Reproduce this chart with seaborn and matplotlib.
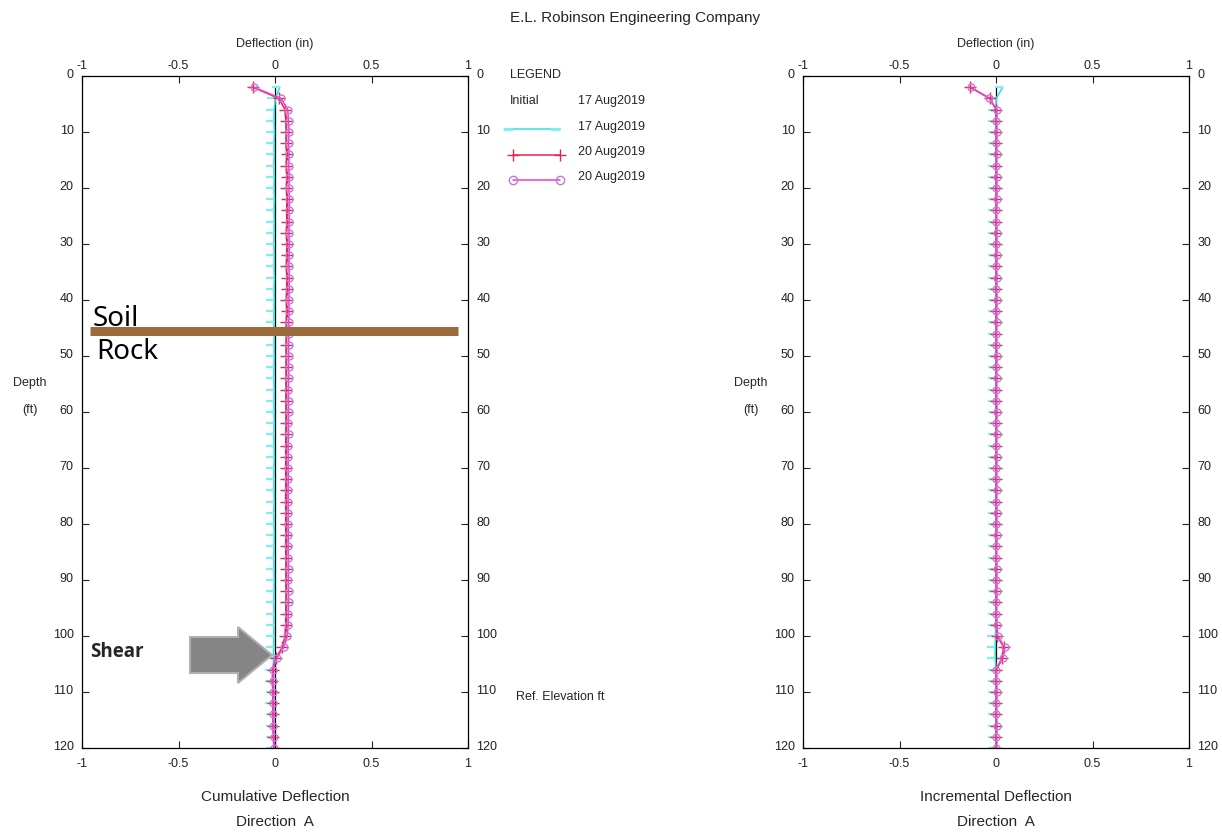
import numpy as np
import seaborn as sns
import matplotlib
import matplotlib.pyplot as plt
from matplotlib.lines import Line2D
from matplotlib.patches import FancyArrow
import matplotlib.transforms as mtransforms

# inclinometer readings, depth in ft, deflection in inches
depth = [2, 4, 6, 8, 10, 12, 14, 16, 18, 20,
         22, 24, 26, 28, 30, 32, 34, 36, 38, 40,
         42, 44, 46, 48, 50, 52, 54, 56, 58, 60,
         62, 64, 66, 68, 70, 72, 74, 76, 78, 80,
         82, 84, 86, 88, 90, 92, 94, 96, 98, 100,
         102, 104, 106, 108, 110, 112, 114, 116, 118, 120]

initial = [0.0, 0.0, 0.0, 0.0, 0.0, 0.0, 0.0, 0.0, 0.0, 0.0,
           0.0, 0.0, 0.0, 0.0, 0.0, 0.0, 0.0, 0.0, 0.0, 0.0,
           0.0, 0.0, 0.0, 0.0, 0.0, 0.0, 0.0, 0.0, 0.0, 0.0,
           0.0, 0.0, 0.0, 0.0, 0.0, 0.0, 0.0, 0.0, 0.0, 0.0,
           0.0, 0.0, 0.0, 0.0, 0.0, 0.0, 0.0, 0.0, 0.0, 0.0,
           0.0, 0.0, 0.0, 0.0, 0.0, 0.0, 0.0, 0.0, 0.0, 0.0]

cum_17aug = [0.025, 0.002, -0.004, -0.005, -0.003, -0.005, -0.004, -0.006, -0.004, -0.005,
             -0.003, -0.005, -0.004, -0.005, -0.006, -0.004, -0.005, -0.003, -0.005, -0.004,
             -0.005, -0.006, -0.004, -0.005, -0.004, -0.005, -0.006, -0.004, -0.005, -0.005,
             -0.004, -0.006, -0.005, -0.004, -0.005, -0.006, -0.005, -0.004, -0.006, -0.005,
             -0.004, -0.005, -0.006, -0.005, -0.004, -0.005, -0.006, -0.005, -0.006, -0.006,
             -0.007, -0.008, -0.008, -0.008, -0.007, -0.008, -0.007, -0.006, -0.005, -0.004]

cum_20aug_a = [-0.115, 0.020, 0.052, 0.056, 0.058, 0.057, 0.060, 0.058, 0.061, 0.059,
               0.062, 0.060, 0.061, 0.059, 0.061, 0.060, 0.059, 0.061, 0.060, 0.059,
               0.060, 0.058, 0.059, 0.057, 0.058, 0.057, 0.058, 0.056, 0.057, 0.057,
               0.056, 0.057, 0.055, 0.056, 0.055, 0.056, 0.055, 0.055, 0.056, 0.055,
               0.056, 0.055, 0.056, 0.057, 0.056, 0.057, 0.057, 0.056, 0.055, 0.052,
               0.038, 0.004, -0.012, -0.013, -0.011, -0.012, -0.011, -0.010, -0.008, -0.005]

cum_20aug_b = [-0.110, 0.030, 0.066, 0.070, 0.072, 0.070, 0.073, 0.071, 0.074, 0.072,
               0.075, 0.073, 0.074, 0.072, 0.074, 0.073, 0.072, 0.074, 0.073, 0.072,
               0.073, 0.071, 0.072, 0.070, 0.071, 0.070, 0.071, 0.069, 0.070, 0.070,
               0.069, 0.070, 0.068, 0.069, 0.068, 0.069, 0.068, 0.068, 0.069, 0.068,
               0.069, 0.068, 0.069, 0.070, 0.069, 0.070, 0.070, 0.069, 0.068, 0.064,
               0.045, 0.008, -0.010, -0.012, -0.010, -0.011, -0.010, -0.009, -0.007, -0.004]

inc_17aug = [0.035, 0.001, 0.000, 0.000, 0.001, 0.000, 0.000, 0.001, 0.000, 0.000,
             0.000, 0.001, 0.000, 0.000, 0.000, 0.001, 0.000, 0.000, 0.001, 0.000,
             0.000, 0.000, 0.001, 0.000, 0.000, 0.000, 0.001, 0.000, 0.000, 0.000,
             0.001, 0.000, 0.000, 0.000, 0.001, 0.000, 0.000, 0.000, 0.001, 0.000,
             0.000, 0.001, 0.000, 0.000, 0.000, 0.001, 0.000, 0.000, 0.000, -0.003,
             -0.004, -0.004, 0.000, 0.000, 0.001, 0.000, 0.000, 0.000, 0.001, 0.000]

inc_20aug_a = [-0.135, -0.032, 0.000, 0.001, 0.002, 0.001, 0.002, 0.001, 0.002, 0.001,
               0.002, 0.001, 0.001, 0.002, 0.001, 0.002, 0.001, 0.002, 0.001, 0.002,
               0.001, 0.002, 0.001, 0.001, 0.002, 0.001, 0.002, 0.001, 0.001, 0.002,
               0.001, 0.002, 0.001, 0.002, 0.001, 0.001, 0.002, 0.001, 0.002, 0.001,
               0.002, 0.001, 0.001, 0.002, 0.001, 0.002, 0.001, 0.001, 0.002, 0.006,
               0.040, 0.030, 0.001, 0.001, 0.002, 0.001, 0.001, 0.002, 0.001, 0.001]

inc_20aug_b = [-0.130, -0.035, 0.004, 0.002, 0.003, 0.002, 0.003, 0.002, 0.003, 0.002,
               0.003, 0.002, 0.002, 0.003, 0.002, 0.003, 0.002, 0.003, 0.002, 0.003,
               0.002, 0.003, 0.002, 0.002, 0.003, 0.002, 0.003, 0.002, 0.002, 0.003,
               0.002, 0.003, 0.002, 0.003, 0.002, 0.002, 0.003, 0.002, 0.003, 0.002,
               0.003, 0.002, 0.002, 0.003, 0.002, 0.003, 0.002, 0.002, 0.003, 0.008,
               0.045, 0.035, 0.002, 0.002, 0.003, 0.002, 0.002, 0.003, 0.002, 0.002]

legend_dates = ['17 Aug2019', '17 Aug2019', '20 Aug2019', '20 Aug2019']
soil_rock_depth = 45.5
x_ticks = [-1, -0.5, 0, 0.5, 1]
x_tick_labels = ['-1', '-0.5', '0', '0.5', '1']
y_ticks = [0, 10, 20, 30, 40, 50, 60, 70, 80, 90, 100, 110, 120]

CYAN = '#2ee0e0'
RED = '#e0284e'
MAG = '#f03cc8'
MAG_EDGE = '#c27ad8'

sns.set_style('white')
plt.rcParams['font.family'] = ['Liberation Sans', 'DejaVu Sans']

W, H, dpi = 1222, 832, 100
fig = plt.figure(figsize=(W / dpi, H / dpi), dpi=dpi)


def px(x, y):
    # pixel position -> figure fraction
    return x / W, 1 - y / H


def draw_panel(left_px, cyan, red, mag, title):
    x0, _ = px(left_px, 0)
    ax = fig.add_axes([x0, 1 - 748 / H, 386 / W, 672 / H])

    sns.lineplot(x=initial, y=depth, sort=False, estimator=None, orient='y',
                 color='black', linewidth=0.9, ax=ax)
    sns.lineplot(x=cyan, y=depth, sort=False, estimator=None, orient='y',
                 color=CYAN, linewidth=1.2, marker=0, markersize=6,
                 markeredgewidth=1.6, markeredgecolor='#7ef0f0', ax=ax)
    sns.lineplot(x=red, y=depth, sort=False, estimator=None, orient='y',
                 color=RED, linewidth=1.1, marker='+', markersize=8,
                 markeredgewidth=1.0, markeredgecolor=RED, ax=ax)
    sns.lineplot(x=mag, y=depth, sort=False, estimator=None, orient='y',
                 color=MAG, linewidth=1.1, marker='o', markersize=5,
                 markerfacecolor='none', markeredgecolor=MAG_EDGE,
                 markeredgewidth=1.0, ax=ax)

    ax.set_xlim(-1, 1)
    ax.set_ylim(120, 0)
    ax.set_xticks(x_ticks)
    ax.set_xticklabels(x_tick_labels)
    ax.set_yticks(y_ticks)
    ax.set_yticklabels([str(v) for v in y_ticks])
    ax.tick_params(axis='both', direction='in', length=5, width=0.8,
                   labelsize=9, colors='#222222',
                   top=True, bottom=True, left=True, right=True,
                   labeltop=True, labelbottom=True, labelleft=True, labelright=True)
    ax.tick_params(axis='x', pad=3)
    ax.tick_params(axis='y', pad=6)
    # depth labels sit a little above their ticks; bottom x labels a bit lower
    up = mtransforms.ScaledTranslation(0, 3 / dpi, fig.dpi_scale_trans)
    down = mtransforms.ScaledTranslation(0, -6 / dpi, fig.dpi_scale_trans)
    for t in ax.yaxis.get_major_ticks():
        t.label1.set_transform(t.label1.get_transform() + up)
        t.label2.set_transform(t.label2.get_transform() + up)
    for t in ax.xaxis.get_major_ticks():
        t.label1.set_transform(t.label1.get_transform() + down)
    for sp in ax.spines.values():
        sp.set_color('black')
        sp.set_linewidth(0.9)
    ax.set_xlabel('')
    ax.set_ylabel('')

    cx = left_px + 193
    fig.text(*px(cx, 44), 'Deflection (in)', ha='center', va='center', fontsize=9)
    fig.text(*px(cx, 797), title, ha='center', va='center', fontsize=11)
    fig.text(*px(cx, 822), 'Direction  A', ha='center', va='center', fontsize=11)
    fig.text(*px(left_px - 52, 383), 'Depth', ha='center', va='center', fontsize=9)
    fig.text(*px(left_px - 52, 410), '(ft)', ha='center', va='center', fontsize=9)
    return ax


ax1 = draw_panel(82, cum_17aug, cum_20aug_a, cum_20aug_b, 'Cumulative Deflection')
ax2 = draw_panel(803, inc_17aug, inc_20aug_a, inc_20aug_b, 'Incremental Deflection')

fig.text(*px(635, 18), 'E.L. Robinson Engineering Company', ha='center', va='center', fontsize=11)

# legend block
fig.text(*px(510, 75), 'LEGEND', ha='left', va='center', fontsize=9)
fig.text(*px(510, 101), 'Initial', ha='left', va='center', fontsize=9)
for y, lab in zip([101, 127, 152, 177], legend_dates):
    fig.text(*px(578, y), lab, ha='left', va='center', fontsize=9)
legend_styles = [
    dict(color=CYAN, marker=0, markersize=7, markeredgewidth=2.2, markeredgecolor='#7ef0f0'),
    dict(color=RED, marker='+', markersize=9, markeredgewidth=1.0),
    dict(color=MAG, marker='o', markersize=6, markerfacecolor='none',
         markeredgecolor=MAG_EDGE, markeredgewidth=1.0),
]
for y, st in zip([129, 155, 180], legend_styles):
    xa, ya = px(513, y)
    xb, _ = px(560, y)
    fig.add_artist(Line2D([xa, xb], [ya, ya], linewidth=1.1,
                          transform=fig.transFigure, **st))
fig.text(*px(516, 697), 'Ref. Elevation ft', ha='left', va='center', fontsize=9)

# soil / rock boundary
ax1.axhline(soil_rock_depth, xmin=0.02, xmax=0.974, color='#9c6b3c', linewidth=6.5,
            solid_capstyle='butt')
fig.text(*px(93, 319), 'Soil', ha='left', va='center', fontsize=20,
         family=['Noto Sans', 'DejaVu Sans'], color='black')
fig.text(*px(96, 352), 'Rock', ha='left', va='center', fontsize=20,
         family=['Noto Sans', 'DejaVu Sans'], color='black')

# shear arrow
xa, ya = px(190, 655)
xt, _ = px(272, 655)
arrow = FancyArrow(xa, ya, xt - xa, 0, width=36 / H, head_width=56 / H,
                   head_length=34 / W, length_includes_head=True,
                   transform=fig.transFigure, facecolor='#858585',
                   edgecolor='#b0b0b0', linewidth=1.5)
fig.add_artist(arrow)
fig.text(*px(90, 652), 'Shear', ha='left', va='center', fontsize=13.5, fontweight='bold',
         family=['Open Sans', 'DejaVu Sans'])

fig.savefig('out.png', dpi=dpi, facecolor='white')
